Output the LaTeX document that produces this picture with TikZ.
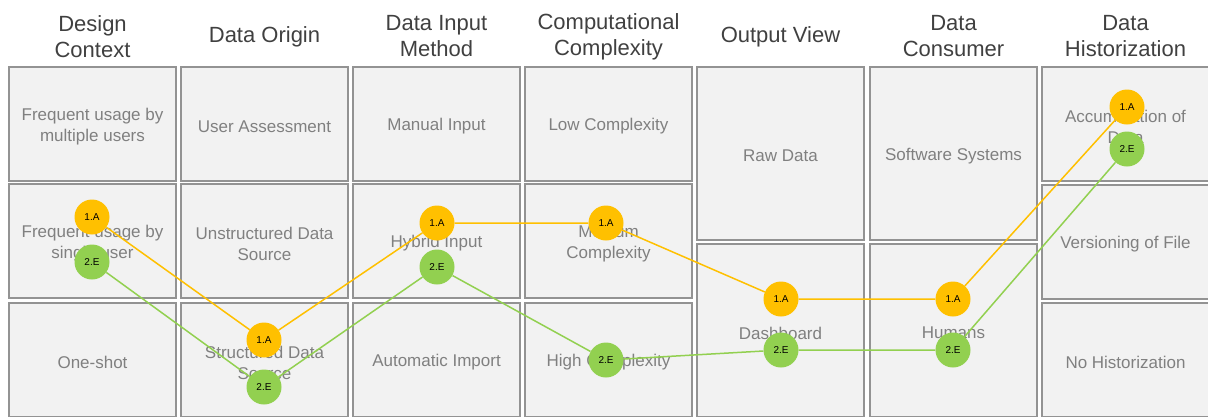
\documentclass[tikz,border=0pt]{standalone}
\usepackage{fontspec}
\setmainfont{Liberation Sans}
\definecolor{headgray}{HTML}{404040}
\definecolor{cellgray}{HTML}{808080}
\definecolor{cellfill}{HTML}{F2F2F2}
\definecolor{cellline}{HTML}{939393}
\definecolor{pinyellow}{HTML}{FFC000}
\definecolor{pingreen}{HTML}{92D050}
\begin{document}
\begin{tikzpicture}[x=1pt,y=-1pt,
  head/.style={align=center, text=headgray, inner sep=0pt, yshift=-1.5pt,
    font=\fontsize{22}{26}\selectfont},
  celltext/.style={align=center, text=cellgray, inner sep=0pt, yshift=-2.5pt,
    font=\fontsize{17}{21}\selectfont},
  cell/.style={draw=cellline, fill=cellfill, line width=1.3pt, inner sep=0pt,
    minimum width=167pt},
  short/.style={cell, minimum height=114pt, label={[celltext]center:{#1}}},
  tall/.style={cell, minimum height=173pt, label={[celltext]center:{#1}}},
  pin/.style={circle, inner sep=0pt, minimum size=35pt, text=black,
    font=\fontsize{10}{12}\selectfont},
  pinA/.style={pin, fill=pinyellow},
  pinE/.style={pin, fill=pingreen},
  pathA/.style={draw=pinyellow, line width=1.5pt},
  pathE/.style={draw=pingreen, line width=1.5pt}]
\useasboundingbox (0,0) rectangle (1208,416);
\clip (0,0) rectangle (1208,416);

% column headings
\node[head] (h1) at (92.5,35)   {Design\\Context};
\node[head] (h2) at (264.5,35)  {Data Origin};
\node[head] (h3) at (436.5,35)  {Data Input\\Method};
\node[head] (h4) at (608.5,35)  {Computational\\Complexity};
\node[head] (h5) at (780.5,35)  {Output View};
\node[head] (h6) at (953.5,35)  {Data\\Consumer};
\node[head] (h7) at (1125.5,35) {Data\\Historization};

% Design Context
\node[short={Frequent usage by\\multiple users}] (c11) at (92.5,124) {};
\node[short={Frequent usage by\\single user}] (c12) at (92.5,241) {};
\node[short={One-shot}] (c13) at (92.5,360) {};
% Data Origin
\node[short={User Assessment}] (c21) at (264.5,124) {};
\node[short={Unstructured Data\\Source}] (c22) at (264.5,241) {};
\node[short={Structured Data\\Source}] (c23) at (264.5,360) {};
% Data Input Method
\node[short={Manual Input}] (c31) at (436.5,124) {};
\node[short={Hybrid Input}] (c32) at (436.5,241) {};
\node[short={Automatic Import}] (c33) at (436.5,360) {};
% Computational Complexity
\node[short={Low Complexity}] (c41) at (608.5,124) {};
\node[short={Medium\\Complexity}] (c42) at (608.5,241) {};
\node[short={High Complexity}] (c43) at (608.5,360) {};
% Output View
\node[tall={Raw Data}] (c51) at (780.5,153.5) {};
\node[tall={Dashboard}] (c52) at (780.5,330.5) {};
% Data Consumer
\node[tall={Software Systems}] (c61) at (953.5,153.5) {};
\node[tall={Humans}] (c62) at (953.5,330.5) {};
% Data Historization
\node[short={Accumulation of\\Data}] (c71) at (1125.5,124) {};
\node[short={Versioning of File}] (c72) at (1125.5,242) {};
\node[short={No Historization}] (c73) at (1125.5,360) {};

% profile 1.A
\node[pinA] (a1) at (92,217)   {1.A};
\node[pinA] (a2) at (264,340)  {1.A};
\node[pinA] (a3) at (437,223)  {1.A};
\node[pinA] (a4) at (606,223)  {1.A};
\node[pinA] (a5) at (781,299)  {1.A};
\node[pinA] (a6) at (953,299)  {1.A};
\node[pinA] (a7) at (1127,107) {1.A};

% profile 2.E
\node[pinE] (e1) at (92,262)   {2.E};
\node[pinE] (e2) at (264,387)  {2.E};
\node[pinE] (e3) at (437,267)  {2.E};
\node[pinE] (e4) at (606,360)  {2.E};
\node[pinE] (e5) at (781,350)  {2.E};
\node[pinE] (e6) at (953,350)  {2.E};
\node[pinE] (e7) at (1127,149) {2.E};

\path[pathA] (a1) -- (a2) (a2) -- (a3) (a3) -- (a4) (a4) -- (a5)
             (a5) -- (a6) (a6) -- (a7);
\path[pathE] (e1) -- (e2) (e2) -- (e3) (e3) -- (e4) (e4) -- (e5)
             (e5) -- (e6) (e6) -- (e7);
\end{tikzpicture}
\end{document}
